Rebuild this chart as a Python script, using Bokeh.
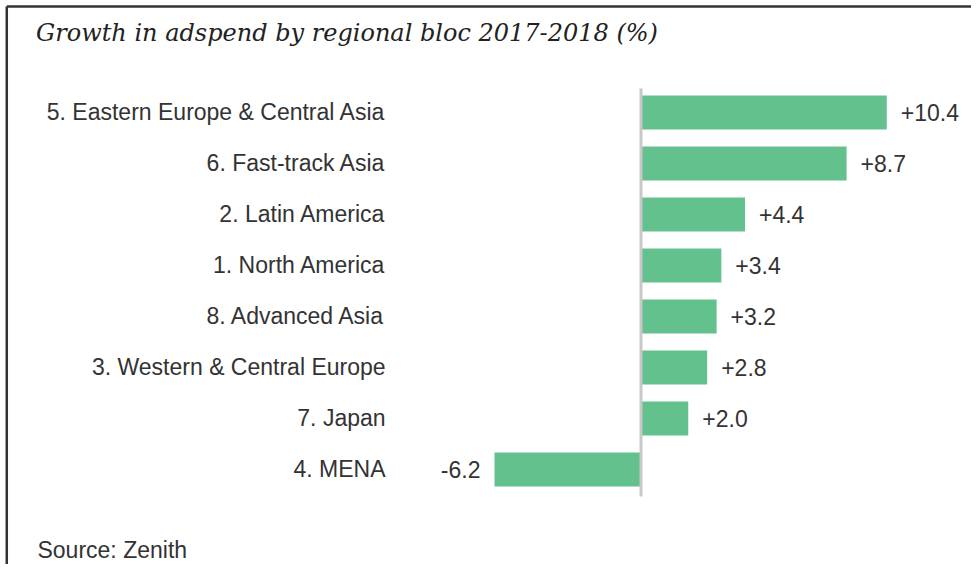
from bokeh.plotting import figure
from bokeh.models import ColumnDataSource, Range1d
from bokeh.core.properties import value
from bokeh.embed import file_html
from bokeh.resources import INLINE

title_text = "Growth in adspend by regional bloc 2017-2018 (%)"
source_text = "Source: Zenith"
regions = [
    "5. Eastern Europe & Central Asia",
    "6. Fast-track Asia",
    "2. Latin America",
    "1. North America",
    "8. Advanced Asia",
    "3. Western & Central Europe",
    "7. Japan",
    "4. MENA",
]
growth = [10.4, 8.7, 4.4, 3.4, 3.2, 2.8, 2.0, -6.2]

BAR = "#62c18c"
TXT = "#333333"
FONT = "Liberation Sans"

rows = [-i for i in range(len(regions))]
pos = [v >= 0 for v in growth]

X0, X1 = -27.105, 13.986
Y0, Y1 = -8.863, 2.196

p = figure(width=971, height=564, output_backend="svg", toolbar_location=None,
           x_range=Range1d(X0, X1), y_range=Range1d(Y0, Y1),
           min_border=0, min_border_left=0, min_border_right=0,
           min_border_top=0, min_border_bottom=0)
p.axis.visible = False
p.grid.visible = False
p.outline_line_color = None
p.background_fill_color = "white"
p.border_fill_color = "white"

src = ColumnDataSource(dict(y=rows, v=growth, name=regions))

p.hbar(y="y", left=0, right="v", height=0.667, source=src,
       fill_color=BAR, line_color=None)

# zero line
p.segment(x0=[0], y0=[0.47], x1=[0], y1=[-7.53], line_color="#c8c8c8", line_width=3)

# category labels
p.text(x=-10.81, y="y", text="name", source=src, text_align="right",
       text_baseline="middle", text_font=value(FONT), text_font_size="23px",
       text_color=TXT)

# value labels
psrc = ColumnDataSource(dict(y=[r for r, k in zip(rows, pos) if k],
                             v=[g for g, k in zip(growth, pos) if k],
                             lab=[f"{g:+.1f}" for g, k in zip(growth, pos) if k]))
nsrc = ColumnDataSource(dict(y=[r for r, k in zip(rows, pos) if not k],
                             v=[g for g, k in zip(growth, pos) if not k],
                             lab=[f"{g:.1f}" for g, k in zip(growth, pos) if not k]))
p.text(x="v", y="y", text="lab", source=psrc, x_offset=14, text_align="left",
       text_baseline="middle", text_font=value(FONT), text_font_size="23px",
       text_color=TXT)
p.text(x="v", y="y", text="lab", source=nsrc, x_offset=-14, text_align="right",
       text_baseline="middle", text_font=value(FONT), text_font_size="23px",
       text_color=TXT)

# title and source
p.text(x=[-25.6], y=[1.559], text=[title_text], text_align="left",
       text_baseline="middle", text_font=value("DejaVu Serif"),
       text_font_style="italic", text_font_size="24px", text_color="#222222")
p.text(x=[-25.54], y=[-8.588], text=[source_text], text_align="left",
       text_baseline="middle", text_font=value(FONT), text_font_size="23px",
       text_color=TXT)

# frame border (top and left)
p.segment(x0=[-26.84, -26.84], y0=[2.078, 2.078], x1=[X1, -26.84], y1=[2.078, Y0],
          line_color="#333333", line_width=2.5)

open("out.html", "w").write(file_html(p, INLINE))
